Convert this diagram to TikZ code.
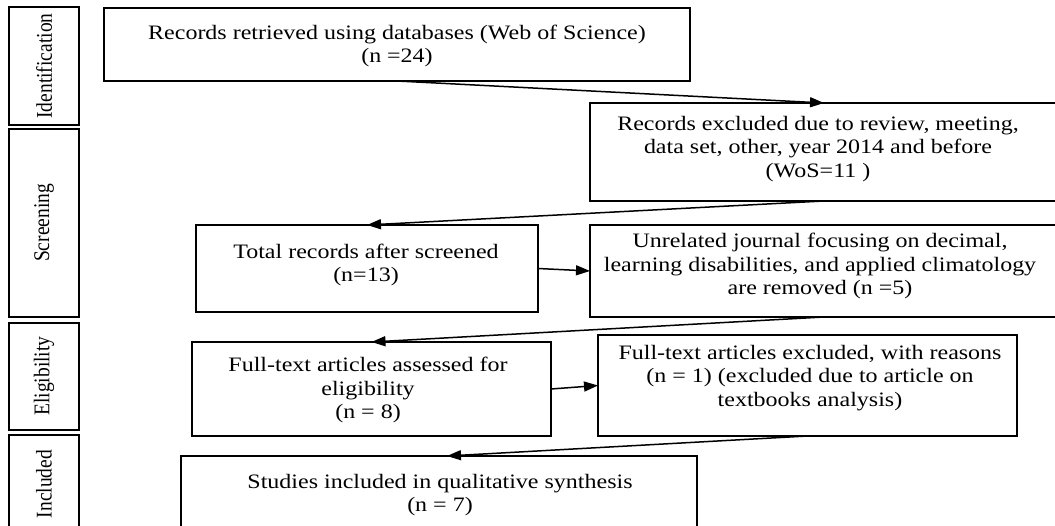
\documentclass[tikz,border=0pt]{standalone}
\usepackage{fontspec}
\setmainfont{Liberation Serif}[FakeStretch=1.17]
\newfontfamily\labelfont{Liberation Serif}
\usetikzlibrary{arrows.meta,calc}
\tikzset{
  box/.style={draw=black, line width=1.8pt, fill=white, inner sep=0pt, outer sep=0pt, anchor=north west},
  txt/.style={align=center, inner sep=0pt, font=\fontsize{20.5}{23.5}\selectfont},
  lbl/.style={rotate=90, inner sep=0pt, font=\labelfont\fontsize{19.5}{23}\selectfont},
  arr/.style={draw=black, line width=1.5pt, -{Triangle[length=14pt,width=10pt]}}
}
\newcommand{\tall}[1]{\scalebox{1}[1.15]{#1}}
\begin{document}
\begin{tikzpicture}[x=1pt,y=-1pt]
\useasboundingbox (0,0) rectangle (1055,526);
\clip (0,0) rectangle (1055,526);
% stage labels
\node[box, minimum width=70pt, minimum height=118pt] (L1) at (9,7) {};
\node[box, minimum width=70pt, minimum height=188pt] (L2) at (9,129) {};
\node[box, minimum width=70pt, minimum height=107pt] (L3) at (9,323) {};
\node[box, minimum width=70pt, minimum height=98pt] (L4) at (9,435) {};
\node[lbl] (l1) at (44,66) {\tall{Identification}};
\node[lbl] (l2) at (44,223) {\tall{Screening}};
\node[lbl] (l3) at (44,376) {\tall{Eligibility}};
\node[lbl] (l4) at (44,484) {\tall{Included}};
% boxes
\node[box, minimum width=586pt, minimum height=73pt] (b1) at (104,8) {};
\node[box, minimum width=468pt, minimum height=98pt] (b2) at (590,103) {};
\node[box, minimum width=342pt, minimum height=87pt] (b3) at (196,225) {};
\node[box, minimum width=468pt, minimum height=92pt] (b4) at (590,225) {};
\node[box, minimum width=359pt, minimum height=94pt] (b5) at (192,342) {};
\node[box, minimum width=419pt, minimum height=101pt] (b6) at (598,335) {};
\node[box, minimum width=516pt, minimum height=100pt] (b7) at (181,456) {};
\node[txt] (t1) at (397,46) {Records retrieved using databases (Web of Science)\\(n =24)};
\node[txt] (t2) at (818,149) {Records excluded due to review, meeting,\\data set, other, year 2014 and before\\(WoS=11 )};
\node[txt] (t3) at (366,265) {Total records after screened\\(n=13)};
\node[txt] (t4) at (820,266) {Unrelated journal focusing on decimal,\\learning disabilities, and applied climatology\\are removed (n =5)};
\node[txt] (t5) at (368,390) {Full-text articles assessed for\\eligibility\\(n = 8)};
\node[txt] (t6) at (810,378) {Full-text articles excluded, with reasons\\(n = 1) (excluded due to article on\\textbooks analysis)};
\node[txt] (t7) at (440,495) {Studies included in qualitative synthesis\\(n = 7)};
% connectors
\draw[arr] (b1.south) -- (b2.north);
\draw[arr] (b2.south) -- (b3.north);
\draw[arr] (b3.east) -- (b4.west);
\draw[arr] (b4.south) -- (b5.north);
\draw[arr] (b5.east) -- (b6.west);
\draw[arr] (b6.south) -- ($(b7.north)+(8,0)$);
\end{tikzpicture}
\end{document}
